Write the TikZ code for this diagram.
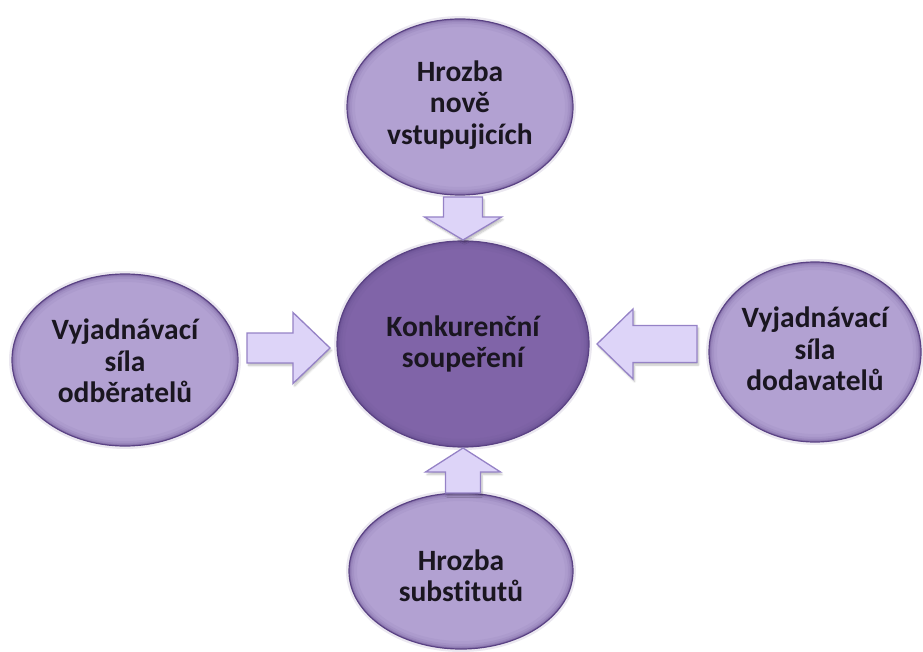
\documentclass[tikz,border=0pt]{standalone}
\usepackage{fontspec}
\setmainfont{Carlito}[Ligatures=NoCommon]
\usetikzlibrary{shapes.geometric,shadows.blur}

\definecolor{outerfill}{HTML}{B2A1D2}
\definecolor{corefill}{HTML}{8064A8}
\definecolor{rimc}{HTML}{5A4284}
\definecolor{arrowfill}{HTML}{DDD4F8}
\definecolor{arrowedge}{HTML}{9582C6}
\definecolor{inkc}{HTML}{1A1620}

\tikzset{
  force/.style={ellipse, inner sep=0pt, fill=outerfill},
  core/.style={ellipse, inner sep=0pt, fill=corefill},
  label text/.style={align=center, text=inkc, font=\bfseries\fontsize{29.5}{31.5}\selectfont},
  arrowbox/.style={fill=arrowfill, draw=arrowedge, line width=1.3pt, line join=miter,
    blur shadow={shadow xshift=1.5pt, shadow yshift=-2.5pt, shadow opacity=25, shadow blur steps=6}},
}

% soft darker rim inside an ellipse, plus its outline
\newcommand{\ellrim}[3]{%
  \begin{scope}
    \clip (#1) ellipse [x radius=#2, y radius=#3];
    \foreach \w/\o in {16/0.06, 10/0.09, 6/0.14, 3/0.25} {
      \draw[rimc, line width=\w pt, opacity=\o] (#1) ellipse [x radius=#2, y radius=#3];
    }
  \end{scope}
  \draw[rimc, line width=3pt, opacity=0.12] (#1) ellipse [x radius=#2+1.5, y radius=#3+1.5];
  \draw[rimc, line width=1.2pt] (#1) ellipse [x radius=#2, y radius=#3];
}

% block arrow: tip, direction, length, shaft width, head width, head length
\newcommand{\blockarr}[6]{%
  \begin{scope}[shift={(#1)}, rotate=#2]
    \filldraw[arrowbox] (0,0) -- (-#6,#5/2) -- (-#6,#4/2) -- (-#3,#4/2)
      -- (-#3,-#4/2) -- (-#6,-#4/2) -- (-#6,-#5/2) -- cycle;
  \end{scope}}

\begin{document}
\begin{tikzpicture}[x=1pt, y=-1pt]
  \useasboundingbox (0,0) rectangle (923,652);

  % the five forces
  \node[force, minimum width=226pt, minimum height=176pt] (top) at (460,107) {};
  \node[core,  minimum width=252pt, minimum height=206pt] (core) at (463,344) {};
  \node[force, minimum width=226pt, minimum height=172pt] (left) at (125,360) {};
  \node[force, minimum width=212pt, minimum height=180pt] (right) at (815,352) {};
  \node[force, minimum width=224pt, minimum height=156pt] (bottom) at (461,571) {};

  \ellrim{top}{113}{88}
  \ellrim{core}{126}{103}
  \ellrim{left}{113}{86}
  \ellrim{right}{106}{90}
  \ellrim{bottom}{112}{78}

  % labels
  \node[label text] (topT) at ([yshift=2pt]top) {Hrozba\\nově\\vstupujicích};
  \node[label text] (coreT) at ([yshift=0pt]core) {Konkurenční\\soupeření};
  \node[label text] (leftT) at ([yshift=-1pt]left) {Vyjadnávací\\síla\\odběratelů};
  \node[label text] (rightT) at ([yshift=3pt]right) {Vyjadnávací\\síla\\dodavatelů};
  \node[label text] (bottomT) at ([yshift=-5pt]bottom) {Hrozba\\substitutů};

  % arrow tips pointing at the centre
  \coordinate (tipT) at (463,240);
  \coordinate (tipB) at (463,448);
  \coordinate (tipL) at (330,348);
  \coordinate (tipR) at (597,344);

  \blockarr{tipT}{-90}{43}{39}{77}{23}
  \blockarr{tipB}{90}{45}{35}{75}{24}
  \blockarr{tipL}{0}{83}{30}{71}{37}
  \blockarr{tipR}{180}{100}{37}{70}{36}
\end{tikzpicture}
\end{document}
